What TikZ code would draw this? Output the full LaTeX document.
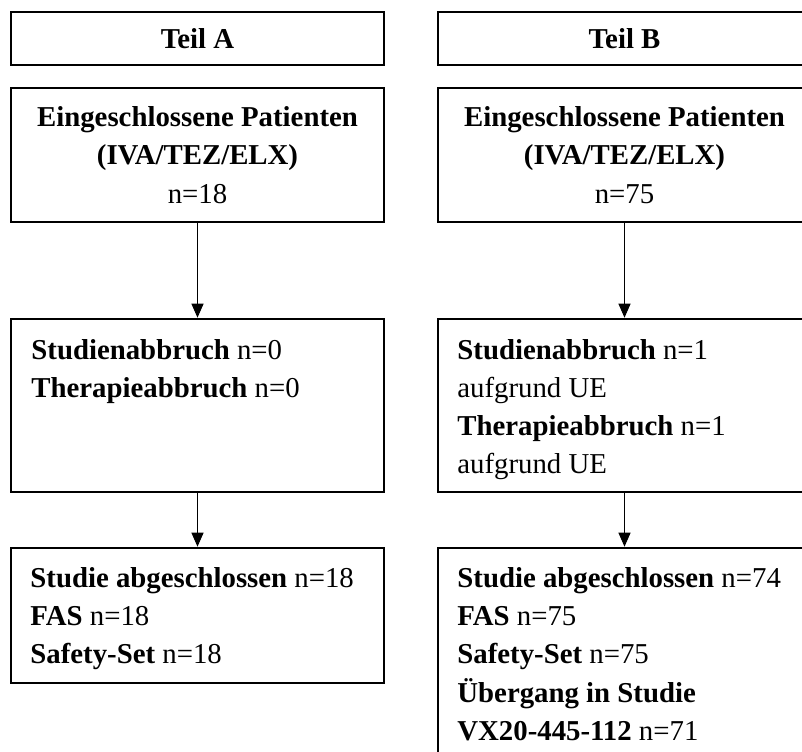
\documentclass[tikz,border=0pt]{standalone}
\usepackage{fontspec}
\setmainfont{Liberation Serif}
\usetikzlibrary{arrows.meta}

\begin{document}
\begin{tikzpicture}[x=0.5pt, y=-0.5pt,
    every node/.style={font=\fontsize{14.4}{19.1}\selectfont},
    box/.style={draw, line width=1.3pt, minimum width=186.5pt, inner sep=0pt, align=center},
    txt/.style={align=left, anchor=north west, inner sep=0pt},
    arr/.style={-{Triangle[length=7pt, width=6pt]}, line width=0.55pt}]

\clip (0, 0) rectangle (802, 751);

% Left column
\node at (197.5, 38.5) [box, minimum height=26.5pt] (teilA) {\textbf{Teil A}};
\node at (197.5, 155) [box, minimum height=67pt] (einA)
  {\textbf{Eingeschlossene Patienten}\\ \textbf{(IVA/TEZ/ELX)}\\ n=18};
\node at (197.5, 405.5) [box, minimum height=86.5pt] (abbA) {};
\node at (31, 339) [txt] (abbAtxt)
  {\textbf{Studienabbruch} n=0\\ \textbf{Therapieabbruch} n=0};
\node at (197.5, 615.5) [box, minimum height=67.5pt] (endA) {};
\node at (30, 567) [txt] (endAtxt)
  {\textbf{Studie abgeschlossen} n=18\\ \textbf{FAS} n=18\\ \textbf{Safety-Set} n=18};

\draw[arr] (einA) -- (abbA);
\draw[arr] (abbA) -- (endA);

% Right column
\node at (624.5, 38.5) [box, minimum height=26.5pt] (teilB) {\textbf{Teil B}};
\node at (624.5, 155) [box, minimum height=67pt] (einB)
  {\textbf{Eingeschlossene Patienten}\\ \textbf{(IVA/TEZ/ELX)}\\ n=75};
\node at (624.5, 405.5) [box, minimum height=86.5pt] (abbB) {};
\node at (457, 339) [txt] (abbBtxt)
  {\textbf{Studienabbruch} n=1\\ aufgrund UE\\ \textbf{Therapieabbruch} n=1\\ aufgrund UE};
\node at (624.5, 659) [box, minimum height=111pt] (endB) {};
\node at (457, 567) [txt] (endBtxt)
  {\textbf{Studie abgeschlossen} n=74\\ \textbf{FAS} n=75\\ \textbf{Safety-Set} n=75\\
   \textbf{Übergang in Studie}\\ \textbf{VX20-445-112} n=71};

\draw[arr] (einB) -- (abbB);
\draw[arr] (abbB) -- (endB);

\end{tikzpicture}
\end{document}
